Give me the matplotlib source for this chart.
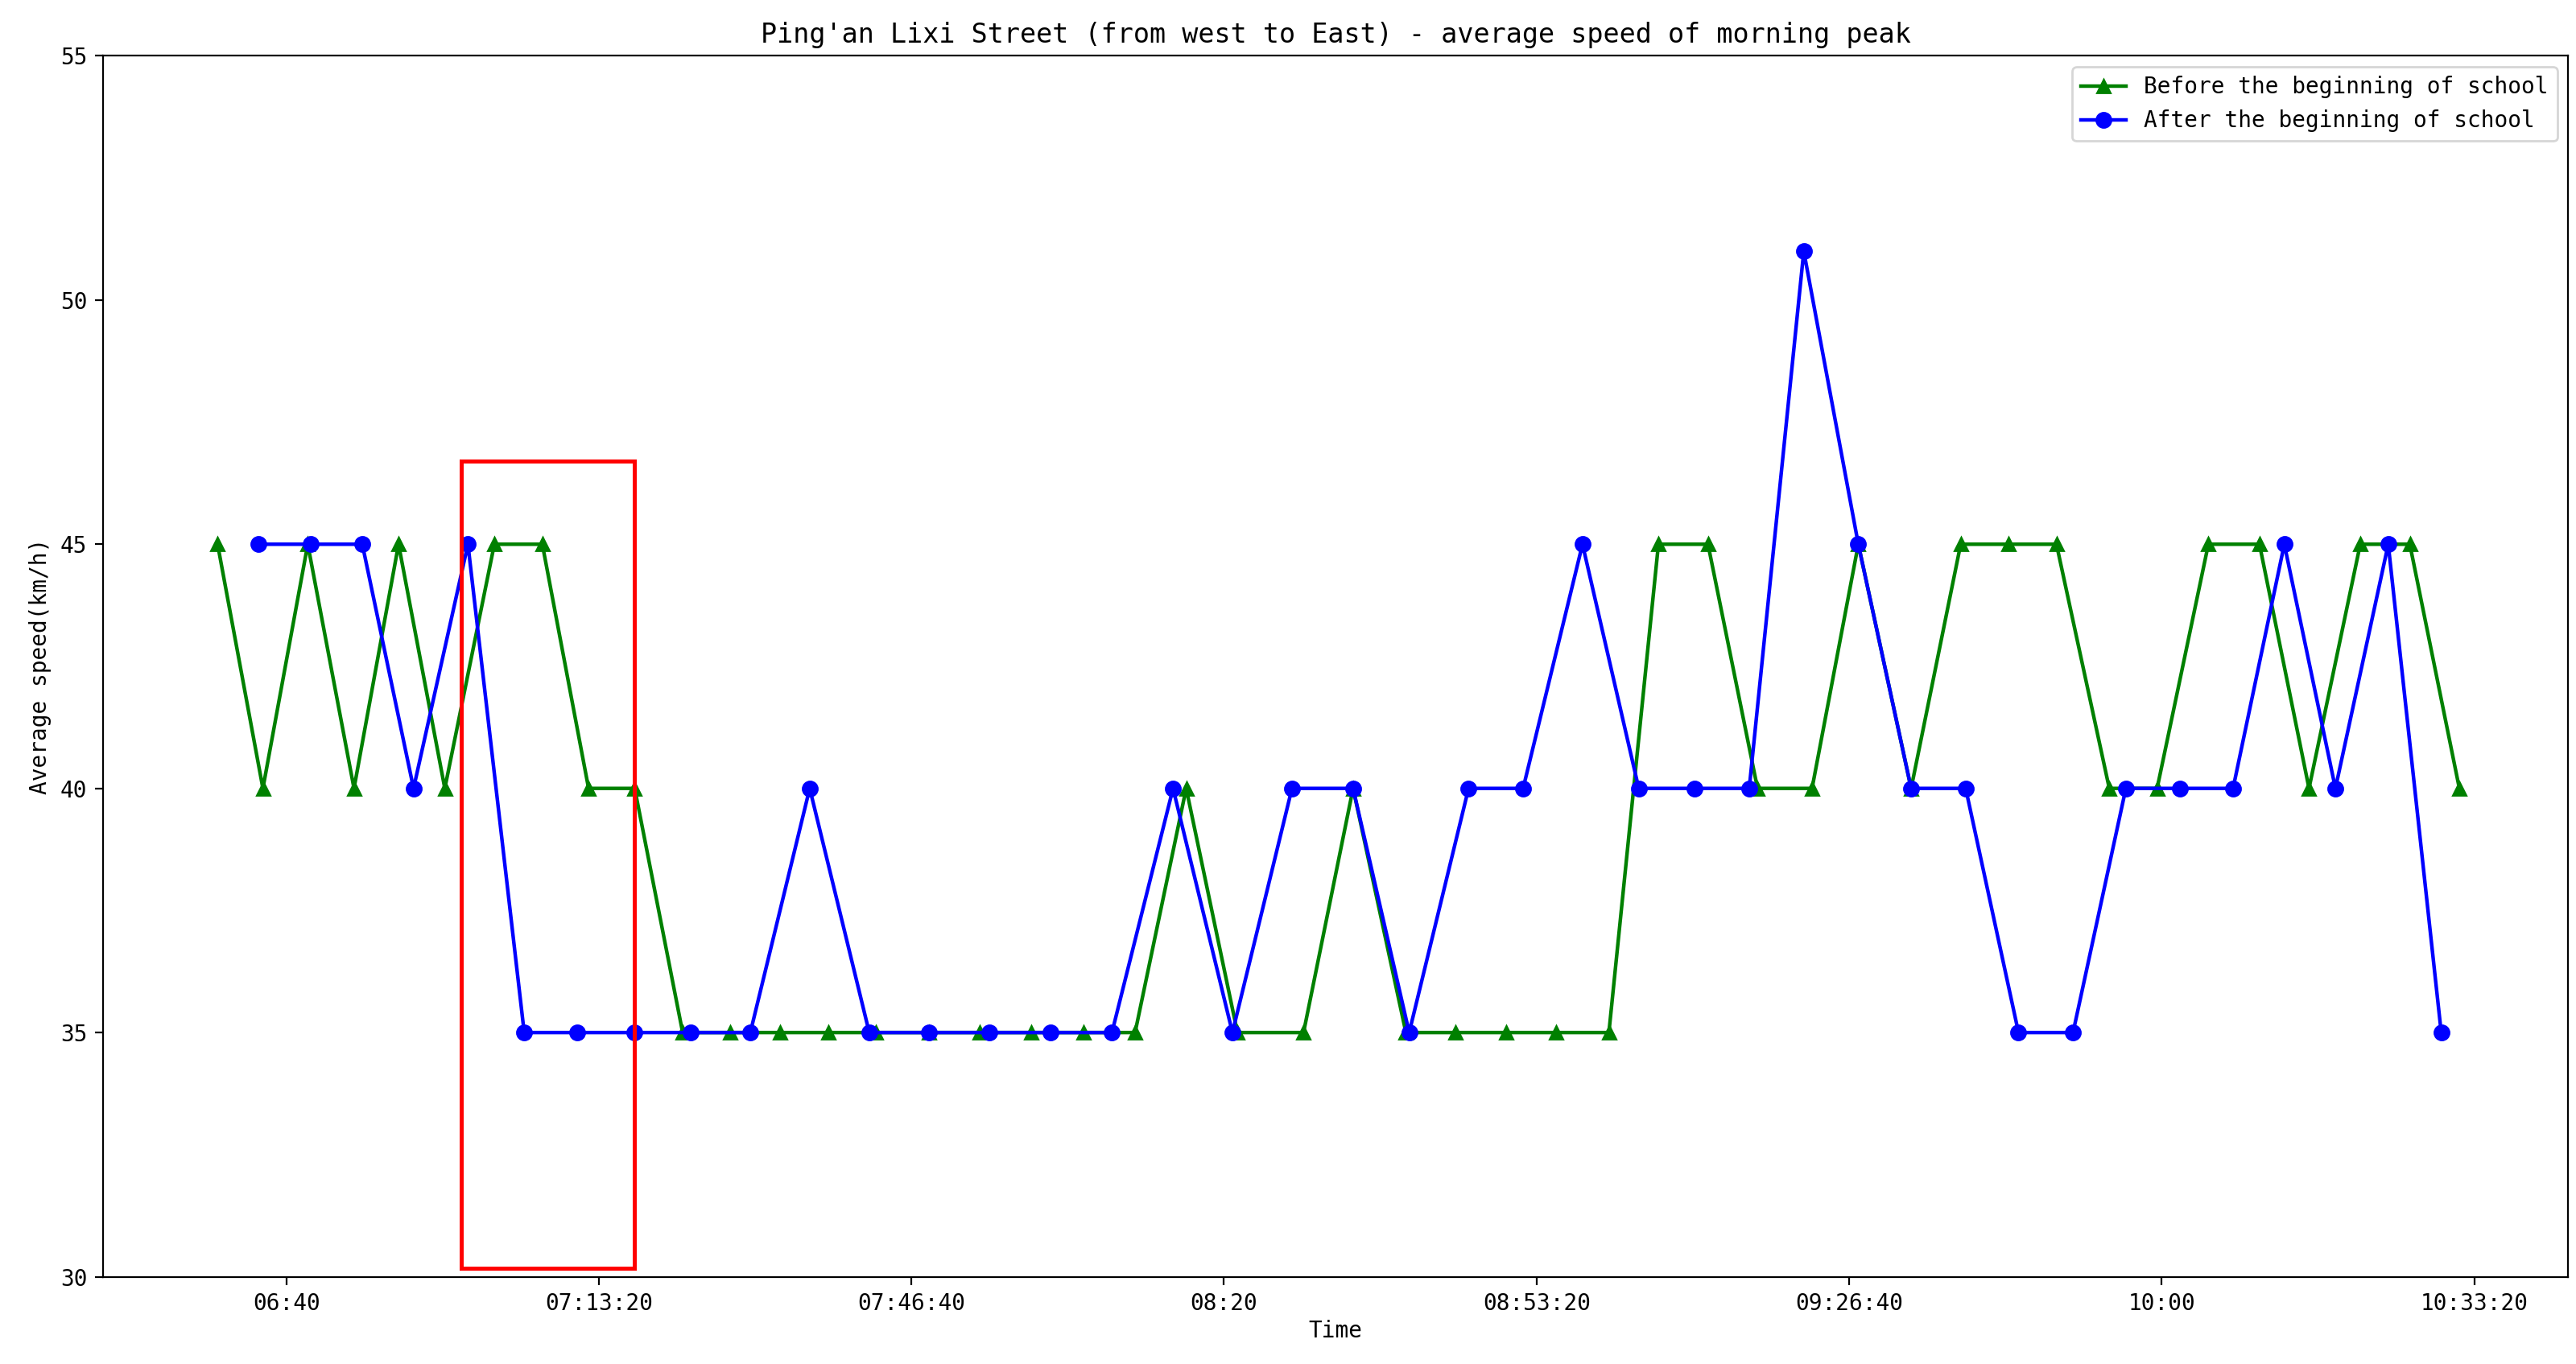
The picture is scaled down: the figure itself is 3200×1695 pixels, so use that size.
import matplotlib
matplotlib.use('Agg')
import matplotlib.pyplot as plt
from matplotlib.patches import Rectangle
from matplotlib.ticker import FuncFormatter

# Data
before_times = ["06:32:40", "06:37:30", "06:42:17", "06:47:13", "06:51:58", "06:56:54",
                "07:02:11", "07:07:18", "07:12:14", "07:17:09", "07:22:16", "07:27:22",
                "07:32:39", "07:37:46", "07:42:52", "07:48:30", "07:53:58", "07:59:25",
                "08:05:03", "08:10:31", "08:15:58", "08:21:26", "08:28:29", "08:33:46",
                "08:39:24", "08:44:41", "08:50:08", "08:55:25", "09:01:03", "09:06:20",
                "09:11:37", "09:16:54", "09:22:43", "09:27:39", "09:33:17", "09:38:34",
                "09:43:40", "09:48:47", "09:54:25", "09:59:31", "10:04:59", "10:10:26",
                "10:15:43", "10:21:11", "10:26:28", "10:31:45"]
before_speed = [45, 40, 45, 40, 45, 40, 45, 45, 40, 40, 35, 35, 35, 35, 35, 35, 35, 35,
                35, 35, 40, 35, 35, 40, 35, 35, 35, 35, 35, 45, 45, 40, 40, 45, 40, 45,
                45, 45, 40, 40, 45, 45, 40, 45, 45, 40]

after_times = ["06:37:00", "06:42:38", "06:48:06", "06:53:34", "06:59:22", "07:05:22",
               "07:11:00", "07:17:09", "07:23:09", "07:29:29", "07:35:49", "07:42:10",
               "07:48:30", "07:55:01", "08:01:32", "08:08:03", "08:14:34", "08:20:54",
               "08:27:15", "08:33:46", "08:39:45", "08:46:05", "08:51:54", "08:58:14",
               "09:04:14", "09:10:13", "09:16:01", "09:21:50", "09:27:39", "09:33:17",
               "09:39:06", "09:44:44", "09:50:33", "09:56:11", "10:01:59", "10:07:37",
               "10:13:05", "10:18:32", "10:24:10", "10:29:49"]
after_speed = [45, 45, 45, 40, 45, 35, 35, 35, 35, 35, 40, 35, 35, 35, 35, 35, 40, 35,
               40, 40, 35, 40, 40, 45, 40, 40, 40, 51, 45, 40, 40, 35, 35, 40, 40, 40,
               45, 40, 45, 35]

tick_times = ["06:40", "07:13:20", "07:46:40", "08:20", "08:53:20", "09:26:40", "10:00", "10:33:20"]


def to_sec(t):
    parts = [int(p) for p in t.split(":")] + [0]
    return parts[0] * 3600 + parts[1] * 60 + parts[2]


def fmt(s, _pos=None):
    s = int(round(s))
    h, m, sec = s // 3600, (s % 3600) // 60, s % 60
    return f"{h:02d}:{m:02d}" if sec == 0 else f"{h:02d}:{m:02d}:{sec:02d}"


plt.rcParams['font.family'] = ['DejaVu Sans Mono', 'DejaVu Sans']

fig = plt.figure(figsize=(16, 8.475), dpi=200)
ax = fig.add_axes([0.040, 0.064, 0.957, 0.895])

ax.plot([to_sec(t) for t in before_times], before_speed, color='green', marker='^',
        markersize=6, lw=1.6, label='Before the beginning of school')
ax.plot([to_sec(t) for t in after_times], after_speed, color='blue', marker='o',
        markersize=6.5, lw=1.6, label='After the beginning of school')

ax.add_patch(Rectangle((to_sec("06:58:40"), 30.17), to_sec("07:17:09") - to_sec("06:58:40"),
                       16.53, fill=False, edgecolor='red', lw=1.8, zorder=5))

ax.set_xlim(to_sec("06:20:27"), to_sec("10:43:22"))
ax.set_ylim(30, 55)
ax.set_xticks([to_sec(t) for t in tick_times])
ax.xaxis.set_major_formatter(FuncFormatter(fmt))
ax.set_yticks([30, 35, 40, 45, 50, 55])
ax.tick_params(labelsize=10)
ax.set_xlabel('Time', fontsize=10, labelpad=2)
ax.set_ylabel('Average speed(km/h)', fontsize=10)
ax.set_title("Ping'an Lixi Street (from west to East) - average speed of morning peak",
             fontsize=12)
ax.legend(loc='upper right', fontsize=10)

fig.savefig('out.png', dpi=200)
